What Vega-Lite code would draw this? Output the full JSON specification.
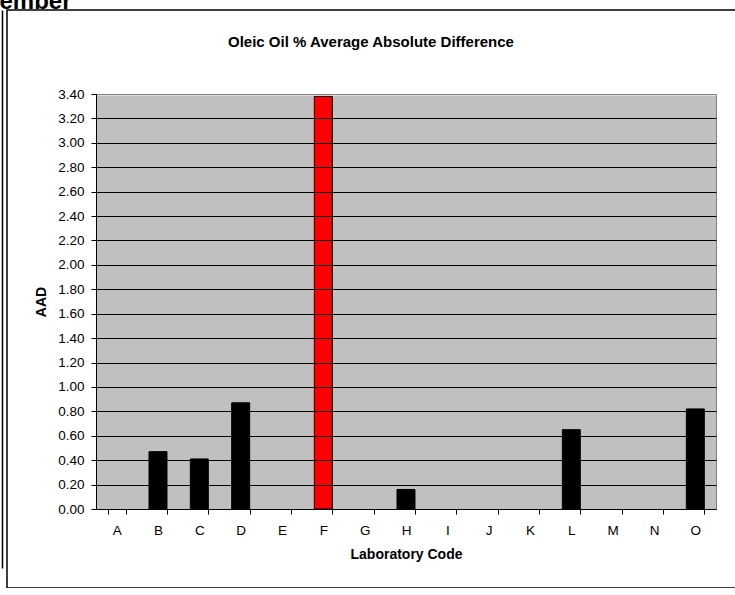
{
  "$schema": "https://vega.github.io/schema/vega-lite/v6.json",
  "width": 798,
  "height": 578,
  "autosize": "none",
  "padding": {"left": 7, "top": 10, "right": 0, "bottom": 0},
  "background": "white",
  "config": {
    "view": {"stroke": "black", "strokeWidth": 1.5, "fill": "white"},
    "font": "Liberation Sans",
    "axis": {"labelFont": "Liberation Sans", "titleFont": "Liberation Sans", "labelColor": "black", "titleColor": "black"}
  },
  "title": {
    "text": "Oleic Oil % Average Absolute Difference",
    "font": "Liberation Sans",
    "fontSize": 15,
    "fontWeight": "bold",
    "color": "black",
    "anchor": "start",
    "frame": "group",
    "dx": 221,
    "offset": -61
  },
  "data": {
    "values": [
      {"lab": "A", "aad": null},
      {"lab": "B", "aad": 0.47},
      {"lab": "C", "aad": 0.41},
      {"lab": "D", "aad": 0.87},
      {"lab": "E", "aad": null},
      {"lab": "F", "aad": 3.38},
      {"lab": "G", "aad": null},
      {"lab": "H", "aad": 0.16},
      {"lab": "I", "aad": null},
      {"lab": "J", "aad": null},
      {"lab": "K", "aad": null},
      {"lab": "L", "aad": 0.65},
      {"lab": "M", "aad": null},
      {"lab": "N", "aad": null},
      {"lab": "O", "aad": 0.82}
    ]
  },
  "encoding": {
    "x": {
      "field": "lab",
      "type": "nominal",
      "sort": null,
      "scale": {"domain": ["A", "B", "C", "D", "E", "F", "G", "H", "I", "J", "K", "L", "M", "N", "O"], "range": [89, 709], "paddingInner": 0.565, "paddingOuter": 0.2825},
      "axis": {
        "orient": "bottom",
        "offset": -79,
        "title": "Laboratory Code",
        "titleFontSize": 14,
        "titleFontWeight": "bold",
        "titleBaseline": "alphabetic",
        "titleY": 49,
        "labelAngle": 0,
        "labelFontSize": 13.5,
        "labelPadding": 9,
        "tickBand": "extent",
        "tickSize": 5,
        "tickColor": "black",
        "domainColor": "black",
        "domainWidth": 1,
        "grid": false,
        "zindex": 1
      }
    }
  },
  "resolve": {"scale": {"y": "independent"}, "axis": {"y": "independent"}},
  "layer": [
    {
      "mark": {"type": "bar", "fillOpacity": 0, "strokeOpacity": 0},
      "encoding": {
        "y": {
          "field": "aad",
          "type": "quantitative",
          "scale": {"domain": [0, 3.4], "range": [499, 84], "nice": false, "zero": true},
          "axis": {
            "orient": "right",
            "offset": -89,
            "title": "ember",
            "titleFontSize": 24,
            "titleFontWeight": "bold",
            "titleAngle": 0,
            "titleAlign": "left",
            "titleBaseline": "alphabetic",
            "titleX": -717,
            "titleY": -2,
            "labels": false,
            "ticks": false,
            "domain": true,
            "domainColor": "#808080",
            "domainWidth": 1,
            "grid": true,
            "values": [1.7],
            "gridColor": "#C0C0C0",
            "gridWidth": 414,
            "gridOpacity": 1
          }
        }
      }
    },
    {
      "mark": {"type": "bar", "fillOpacity": 0, "strokeOpacity": 0},
      "encoding": {
        "y": {
          "field": "aad",
          "type": "quantitative",
          "scale": {"domain": [0, 3.4], "range": [558, 0], "nice": false, "zero": true},
          "axis": {
            "orient": "left",
            "offset": 5,
            "title": null,
            "labels": false,
            "ticks": false,
            "grid": false,
            "domain": true,
            "domainColor": "black",
            "domainWidth": 1.5
          }
        }
      }
    },
    {
      "mark": {"type": "bar", "stroke": "black", "strokeWidth": 1},
      "encoding": {
        "y": {
          "field": "aad",
          "type": "quantitative",
          "scale": {"domain": [0, 3.4], "range": [499, 84], "nice": false, "zero": true},
          "axis": {
            "orient": "left",
            "offset": -89,
            "title": "AAD",
            "titleFontSize": 14,
            "titleFontWeight": "bold",
            "titleAngle": 270,
            "titleAlign": "center",
            "titleBaseline": "middle",
            "titleX": -55,
            "titleY": 291.5,
            "format": ".2f",
            "values": [0, 0.2, 0.4, 0.6, 0.8, 1.0, 1.2, 1.4, 1.6, 1.8, 2.0, 2.2, 2.4, 2.6, 2.8, 3.0, 3.2, 3.4],
            "labelFontSize": 13.5,
            "labelPadding": 7,
            "tickSize": 5,
            "tickColor": "black",
            "domainColor": "black",
            "domainWidth": 1,
            "grid": true,
            "gridColor": {"condition": {"test": "datum.value > 3.39", "value": "#808080"}, "value": "black"},
            "gridWidth": 1,
            "gridOpacity": 1,
            "zindex": 1
          }
        },
        "color": {
          "condition": {"test": "datum.lab === 'F'", "value": "#FF0000"},
          "value": "black"
        }
      }
    }
  ]
}
